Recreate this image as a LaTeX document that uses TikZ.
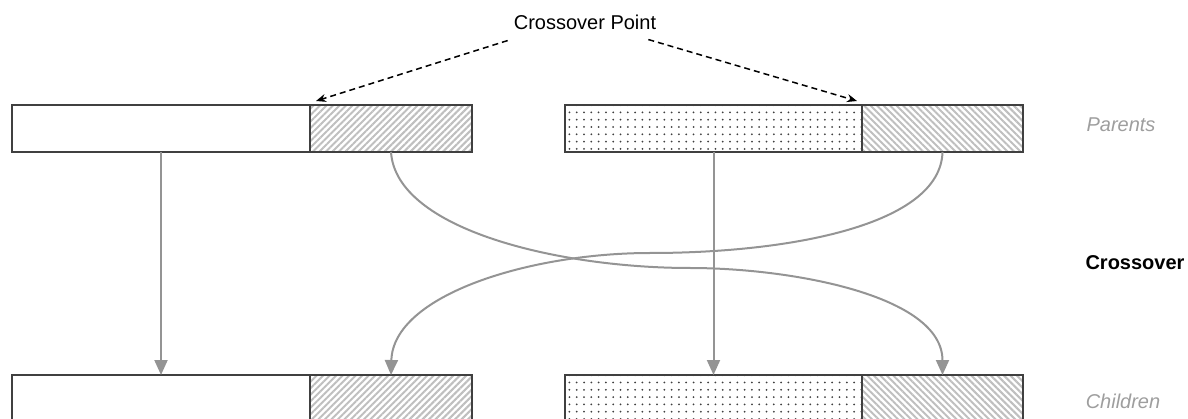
\documentclass[tikz,border=0pt]{standalone}
\usepackage{fontspec}
\setmainfont{Liberation Sans}
\usetikzlibrary{patterns.meta,arrows.meta}
\begin{document}
\begin{tikzpicture}[x=1pt,y=-1pt,
  seg/.style={draw=black!75, line width=1.4pt, minimum height=47pt, inner sep=0pt, outer sep=0pt, anchor=north west},
  plainseg/.style={seg, fill=white},
  hatchA/.style={seg, pattern={Lines[angle=45,distance=4.6pt,line width=2pt]}, pattern color=black!25},
  hatchB/.style={seg, pattern={Lines[angle=-45,distance=4.6pt,line width=2pt]}, pattern color=black!25},
  dotseg/.style={seg, pattern={Dots[distance=7.3pt,radius=1pt]}, pattern color=black!75},
  conn/.style={draw=black!42, line width=2pt, -{Triangle[length=15pt,width=13pt]}},
  pointer/.style={draw=black, line width=1.5pt, dash pattern=on 6pt off 4pt, -{Stealth[length=10pt,width=8pt]}},
  lbl/.style={font=\fontsize{20}{24}\selectfont, inner sep=0pt},
  side/.style={lbl, font=\itshape\fontsize{20}{24}\selectfont, text=black!38}
]
\useasboundingbox (0,0) rectangle (1188,419);
\clip (0,0) rectangle (1188,419);

% parent chromosomes
\node[plainseg, minimum width=298pt] (p1a) at (12,105) {};
\node[hatchA,   minimum width=162pt] (p1b) at (310,105) {};
\node[dotseg,   minimum width=297pt] (p2a) at (565,105) {};
\node[hatchB,   minimum width=161pt] (p2b) at (862,105) {};

% children (cut by the lower edge)
\node[plainseg, minimum width=298pt] (c1a) at (12,375) {};
\node[hatchA,   minimum width=162pt] (c1b) at (310,375) {};
\node[dotseg,   minimum width=297pt] (c2a) at (565,375) {};
\node[hatchB,   minimum width=161pt] (c2b) at (862,375) {};

% crossover point marker
\node[lbl] (cp) at (585,22) {Crossover Point};
\draw[pointer] ([xshift=-6pt,yshift=-11pt]cp.south west) -- ([xshift=6pt,yshift=4pt]p1b.north west);
\draw[pointer] ([xshift=-8pt,yshift=-10pt]cp.south east) -- ([xshift=-5pt,yshift=4pt]p2b.north west);

% heads pass straight down
\draw[conn] (p1a.south) -- (c1a.north);
\draw[conn] (p2a.south) -- (c2a.north);

% tails swap between the parents
\coordinate (ma) at (690,268);
\coordinate (mb) at (650,253);
\draw[conn] (p1b.south) .. controls +(5,78) and +(-130,0) .. (ma)
                        .. controls +(100,0) and +(0,-80) .. (c2b.north);
\draw[conn] (p2b.south) .. controls +(-2,73) and +(140,0) .. (mb)
                        .. controls +(-120,0) and +(2,-80) .. (c1b.north);

% row labels
\node[side] (lp) at (1121,125) {Parents};
\node[lbl, font=\bfseries\fontsize{20}{24}\selectfont] (lx) at (1135,263) {Crossover};
\node[side] (lc) at (1123,401) {Children};
\end{tikzpicture}
\end{document}
